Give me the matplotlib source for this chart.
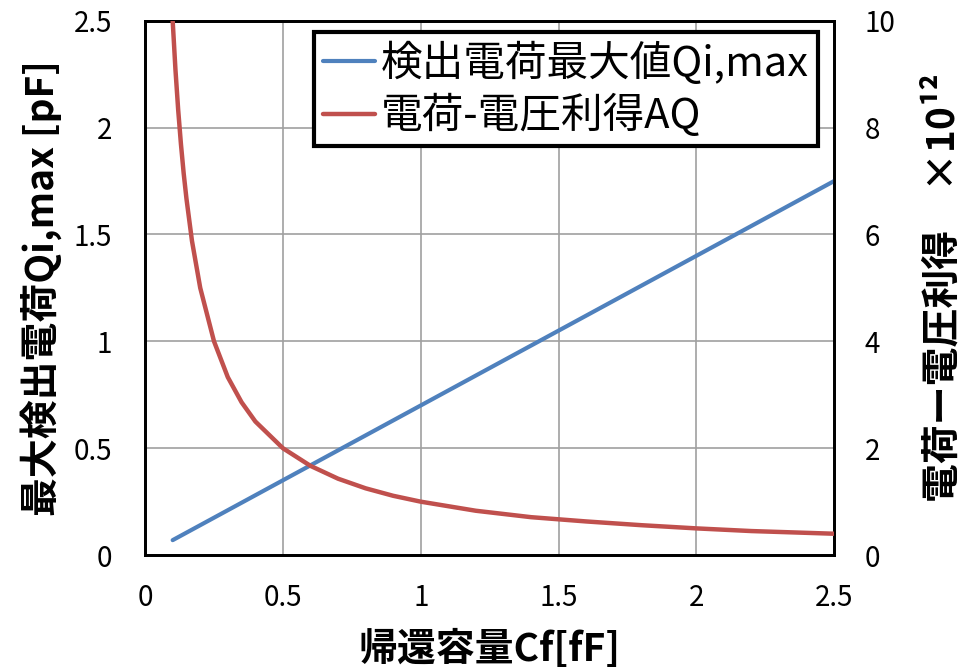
import matplotlib
matplotlib.use("Agg")
import matplotlib.pyplot as plt

plt.rcParams['font.family'] = ['Noto Sans CJK JP', 'DejaVu Sans']

# feedback capacitance Cf [fF]
cf_blue = [0.1, 0.5, 1.0, 1.5, 2.0, 2.5]
qi_max = [0.07, 0.35, 0.70, 1.05, 1.40, 1.75]

cf_red = [0.1, 0.11, 0.12, 0.13, 0.14, 0.15, 0.17, 0.2, 0.25, 0.3, 0.35, 0.4,
          0.5, 0.6, 0.7, 0.8, 0.9, 1.0, 1.2, 1.4, 1.6, 1.8, 2.0, 2.2, 2.5]
aq = [10.0, 9.09, 8.33, 7.69, 7.14, 6.67, 5.88, 5.0, 4.0, 3.33, 2.86, 2.5,
      2.0, 1.67, 1.43, 1.25, 1.11, 1.0, 0.83, 0.71, 0.63, 0.56, 0.5, 0.45, 0.4]

left_ticks = [0, 0.5, 1, 1.5, 2, 2.5]
left_labels = ['0', '0.5', '1', '1.5', '2', '2.5']
right_ticks = [0, 2, 4, 6, 8, 10]
x_ticks = [0, 0.5, 1, 1.5, 2, 2.5]
x_labels = ['0', '0.5', '1', '1.5', '2', '2.5']

fig = plt.figure(figsize=(9.61, 6.68), dpi=100)
ax = fig.add_axes([0.151, 0.169, 0.717, 0.8])
ax2 = ax.twinx()

l1, = ax.plot(cf_blue, qi_max, color='#4F81BD', lw=3, solid_capstyle='round',
              label='検出電荷最大値Qi,max', zorder=3)
l2, = ax2.plot(cf_red, aq, color='#C0504D', lw=3.2, solid_capstyle='round',
               label='電荷-電圧利得AQ', zorder=3)

ax.set_xlim(0, 2.5)
ax.set_ylim(0, 2.5)
ax2.set_ylim(0, 10)
ax.set_xticks(x_ticks)
ax.set_xticklabels(x_labels)
ax.set_yticks(left_ticks)
ax.set_yticklabels(left_labels)
ax2.set_yticks(right_ticks)

ax.grid(True, color='#A0A0A0', lw=1.2)
ax.set_axisbelow(True)

ax.tick_params(axis='both', length=0, labelsize=20)
ax.tick_params(axis='y', pad=24)
ax.tick_params(axis='x', pad=20)
ax2.tick_params(axis='y', length=0, labelsize=20, pad=22)

for a in (ax, ax2):
    for s in a.spines.values():
        s.set_linewidth(2)
        s.set_color('black')

ax.set_xlabel('帰還容量Cf[fF]', fontsize=28, fontweight='bold', labelpad=12)
ax.set_ylabel('最大検出電荷Qi,max [pF]', fontsize=28, fontweight='bold', labelpad=8)
ax2.set_ylabel('電荷ー電圧利得　×10¹²', fontsize=28, fontweight='bold',
               rotation=90, labelpad=20)

leg = ax2.legend(handles=[l1, l2], loc='upper right', fontsize=30,
                 bbox_to_anchor=(0.977, 0.978), frameon=True, fancybox=False,
                 handlelength=1.25, handletextpad=0.15, borderpad=0.22,
                 labelspacing=0.22, borderaxespad=0)
leg.get_frame().set_edgecolor('black')
leg.get_frame().set_linewidth(3)
leg.get_frame().set_alpha(1)

fig.savefig('out.png', dpi=100)
